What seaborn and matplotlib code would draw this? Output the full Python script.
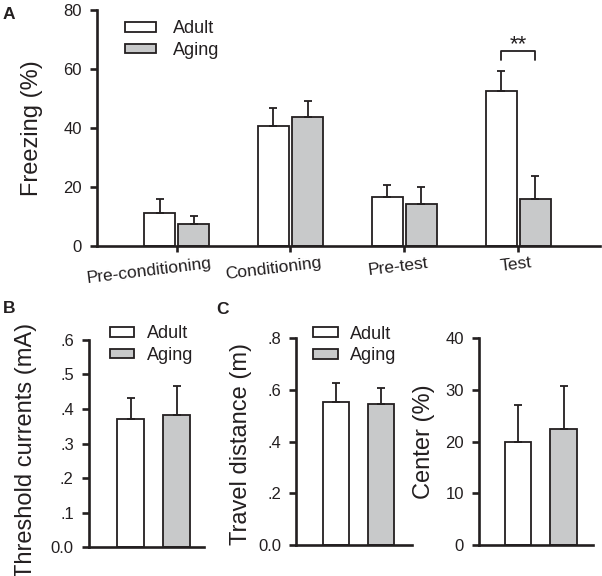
import numpy as np
import pandas as pd
import seaborn as sns
import matplotlib.pyplot as plt
from matplotlib.patches import Patch
from matplotlib.ticker import FuncFormatter
from matplotlib.transforms import ScaledTranslation

# ---- data (mean, upper SEM) ----
groups = ["Adult", "Aging"]
phases = ["Pre-conditioning", "Conditioning", "Pre-test", "Test"]

freeze_adult = [11.2, 40.7, 16.6, 52.5]
freeze_adult_sem = [4.7, 6.1, 4.1, 6.8]
freeze_aging = [7.5, 43.7, 14.2, 15.9]
freeze_aging_sem = [2.7, 5.5, 5.8, 7.8]

threshold = [0.372, 0.382]
threshold_sem = [0.060, 0.084]

travel = [0.553, 0.545]
travel_sem = [0.075, 0.062]

center = [19.9, 22.4]
center_sem = [7.1, 8.3]

sig_phase = "Test"
sig_label = "**"
sig_top = 66
sig_leg = 3

ink = "#231f20"
colors = {"Adult": "white", "Aging": "#c8c9ca"}

sns.set_style("ticks")
plt.rcParams["font.family"] = ["Liberation Sans", "DejaVu Sans"]
plt.rcParams["text.color"] = ink
plt.rcParams["axes.labelcolor"] = ink
plt.rcParams["xtick.color"] = ink
plt.rcParams["ytick.color"] = ink

fig = plt.figure(figsize=(6.02, 5.76), dpi=100)


def style_axes(ax, show_x=True):
    sns.despine(ax=ax)
    for s in ["left", "bottom"]:
        ax.spines[s].set_linewidth(1.9)
        ax.spines[s].set_color(ink)
    ax.tick_params(axis="y", width=1.9, length=5, labelsize=12, pad=6)
    ax.tick_params(axis="x", width=1.9, length=4, labelsize=12, pad=3)
    if not show_x:
        ax.tick_params(axis="x", bottom=False, labelbottom=False)
    ax.set_xlabel("")


def add_errors(ax, sems):
    for cont, err in zip(ax.containers, sems):
        xs = [b.get_x() + b.get_width() / 2 for b in cont]
        ys = [b.get_height() for b in cont]
        ax.errorbar(xs, ys, yerr=[np.zeros(len(err)), err], fmt="none",
                    ecolor=ink, elinewidth=1.3, capsize=3, capthick=1.3, zorder=3)


def add_legend(ax, x, y, hlen, pad):
    handles = [Patch(facecolor=colors[g], edgecolor=ink, linewidth=1.3, label=g)
               for g in groups]
    ax.legend(handles=handles, loc="upper left", bbox_to_anchor=(x, y),
              frameon=False, borderpad=0, borderaxespad=0, fontsize=13,
              handlelength=hlen, handleheight=0.45, handletextpad=pad,
              labelspacing=0.25)


# ---- A: freezing ----
df_a = pd.DataFrame({
    "phase": phases * 2,
    "group": ["Adult"] * 4 + ["Aging"] * 4,
    "freezing": freeze_adult + freeze_aging,
})
ax_a = fig.add_axes([0.161, 0.573, 0.836, 0.41])
sns.barplot(data=df_a, x="phase", y="freezing", hue="group", order=phases,
            hue_order=groups, palette=colors, edgecolor=ink, linewidth=1.3,
            width=0.6, gap=0.1, errorbar=None, legend=False, ax=ax_a)
add_errors(ax_a, [freeze_adult_sem, freeze_aging_sem])
ax_a.set_ylim(0, 80)
ax_a.set_yticks([0, 20, 40, 60, 80])
ax_a.set_xlim(-0.7, 3.72)
style_axes(ax_a)
ax_a.tick_params(axis="x", labelsize=12.5)
ax_a.set_ylabel("Freezing (%)", fontsize=17)
ax_a.yaxis.set_label_coords(-0.107, 0.5)
for lab in ax_a.get_xticklabels():
    lab.set_rotation(7)
    lab.set_ha("center")
add_legend(ax_a, 0.056, 0.955, 1.7, 0.95)

# significance bracket over the Test pair
i = phases.index(sig_phase)
xl = ax_a.containers[0][i].get_x() + ax_a.containers[0][i].get_width() / 2
xr = ax_a.containers[1][i].get_x() + ax_a.containers[1][i].get_width() / 2
ax_a.plot([xl, xl, xr, xr], [sig_top - sig_leg, sig_top, sig_top, sig_top - sig_leg],
          color=ink, lw=1.3, clip_on=False)
ax_a.text((xl + xr) / 2, sig_top - 1.5, sig_label, ha="center", va="bottom",
          fontsize=16, color=ink)


# ---- B and C: two-bar panels ----
def two_bar(rect, values, sems, ylim, ticks, fmt, ylabel, lab_xy, xlim):
    ax = fig.add_axes(rect)
    df = pd.DataFrame({"group": groups, "value": values})
    sns.barplot(data=df, x="group", y="value", hue="group", order=groups,
                hue_order=groups, palette=colors, edgecolor=ink, linewidth=1.3,
                width=0.58, errorbar=None, legend=False, ax=ax)
    add_errors(ax, [[s] for s in sems])
    ax.set_ylim(*ylim)
    ax.set_yticks(ticks)
    ax.yaxis.set_major_formatter(FuncFormatter(fmt))
    ax.set_xlim(*xlim)
    style_axes(ax, show_x=False)
    ax.set_ylabel(ylabel, fontsize=17)
    ax.yaxis.set_label_coords(*lab_xy)
    return ax


def frac_fmt(v, pos):
    return "0.0" if abs(v) < 1e-9 else f"{v:.1f}".lstrip("0")


ax_b = two_bar([0.148, 0.050, 0.191, 0.36], threshold, threshold_sem, (0, 0.6),
               [0, 0.1, 0.2, 0.3, 0.4, 0.5, 0.6], frac_fmt,
               "Threshold currents (mA)", (-0.45, 0.469), (-0.91, 1.6))
add_legend(ax_b, 0.183, 1.07, 1.3, 0.75)

ax_c1 = two_bar([0.492, 0.054, 0.193, 0.359], travel, travel_sem, (0, 0.8),
                [0, 0.2, 0.4, 0.6, 0.8], frac_fmt,
                "Travel distance (m)", (-0.38, 0.488), (-0.88, 1.7))
add_legend(ax_c1, 0.147, 1.06, 1.35, 0.7)

ax_c2 = two_bar([0.796, 0.054, 0.189, 0.359], center, center_sem, (0, 40),
                [0, 10, 20, 30, 40], lambda v, p: f"{v:.0f}",
                "Center (%)", (-0.386, 0.5), (-0.86, 1.65))

# panel letters
fig.text(0.005, 0.988, "A", fontsize=12.5, fontweight="bold", va="top")
fig.text(0.005, 0.477, "B", fontsize=12.5, fontweight="bold", va="top")
fig.text(0.360, 0.475, "C", fontsize=12.5, fontweight="bold", va="top")

# nudge rotated phase labels left in proportion to their length
fig.canvas.draw()
renderer = fig.canvas.get_renderer()
for lab in ax_a.get_xticklabels():
    w = lab.get_window_extent(renderer).width
    shift = -0.00174 * w * w
    lab.set_transform(lab.get_transform() +
                      ScaledTranslation(shift / fig.dpi, 0, fig.dpi_scale_trans))

fig.savefig("out.png", dpi=100)
